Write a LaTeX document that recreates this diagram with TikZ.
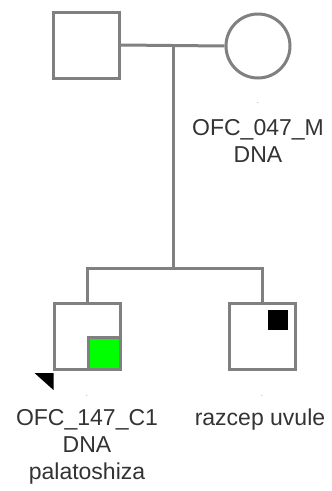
\documentclass[tikz,border=0pt]{standalone}
\usepackage{fontspec}
\setmainfont{Liberation Sans}
\usetikzlibrary{positioning, calc}

\definecolor{pedline}{HTML}{808080}
\definecolor{pedtext}{HTML}{333333}

\begin{document}
\begin{tikzpicture}[
    x=1pt, y=-1pt,
    male/.style={draw=pedline, line width=3pt, fill=white, minimum size=66pt,
                 inner sep=0pt},
    female/.style={circle, draw=pedline, line width=3pt, fill=white,
                   minimum size=64pt, inner sep=0pt},
    link/.style={draw=pedline, line width=3pt},
    lbl/.style={text=pedtext, align=center, inner sep=0pt,
                font=\fontsize{23}{27}\selectfont},
    dotlbl/.style={text=pedtext, inner sep=0pt, font=\fontsize{6}{6}\selectfont}
  ]
  \useasboundingbox (0,0) rectangle (332,491);
  % Parents
  \node[male] (father) at (86.5,45) {};
  \node[female] (mother) at (258,46) {};
  \coordinate (union) at (173,46);
  \coordinate (sibs) at (173,268);
  % Children
  \node[male] (child1) at (87,336.5) {};
  \node[male] (child2) at (262,336.5) {};
  % Lines
  \draw[link] (father.east) -- (mother.west);
  \draw[link] (union) -- (sibs);
  \draw[link] (child1.north) |- (sibs) -| (child2.north);
  % Affection marks
  \node[draw=pedline, line width=3pt, fill=green, minimum size=32pt,
        inner sep=0pt, anchor=south east] (cleft) at (child1.south east) {};
  \node[fill=black, minimum size=20pt, inner sep=0pt] (uvula) at (278,320) {};
  % Proband arrow
  \fill[black] ($(child1.south west)+(-18,2)$) -- ($(child1.south west)+(1,2)$)
    -- ($(child1.south west)+(1,19)$) -- cycle;
  % Labels
  \node[dotlbl] (dotm) at (258,103) {.};
  \node[lbl] (labm) at (258,141) {OFC\_047\_M\\DNA};
  \node[dotlbl] (dot1) at (87,396) {.};
  \node[lbl] (lab1) at (87,447) {OFC\_147\_C1\\DNA\\palatoshiza};
  \node[dotlbl] (dot2) at (262,396) {.};
  \node[lbl] (lab2) at (260,420) {razcep uvule};
\end{tikzpicture}
\end{document}
